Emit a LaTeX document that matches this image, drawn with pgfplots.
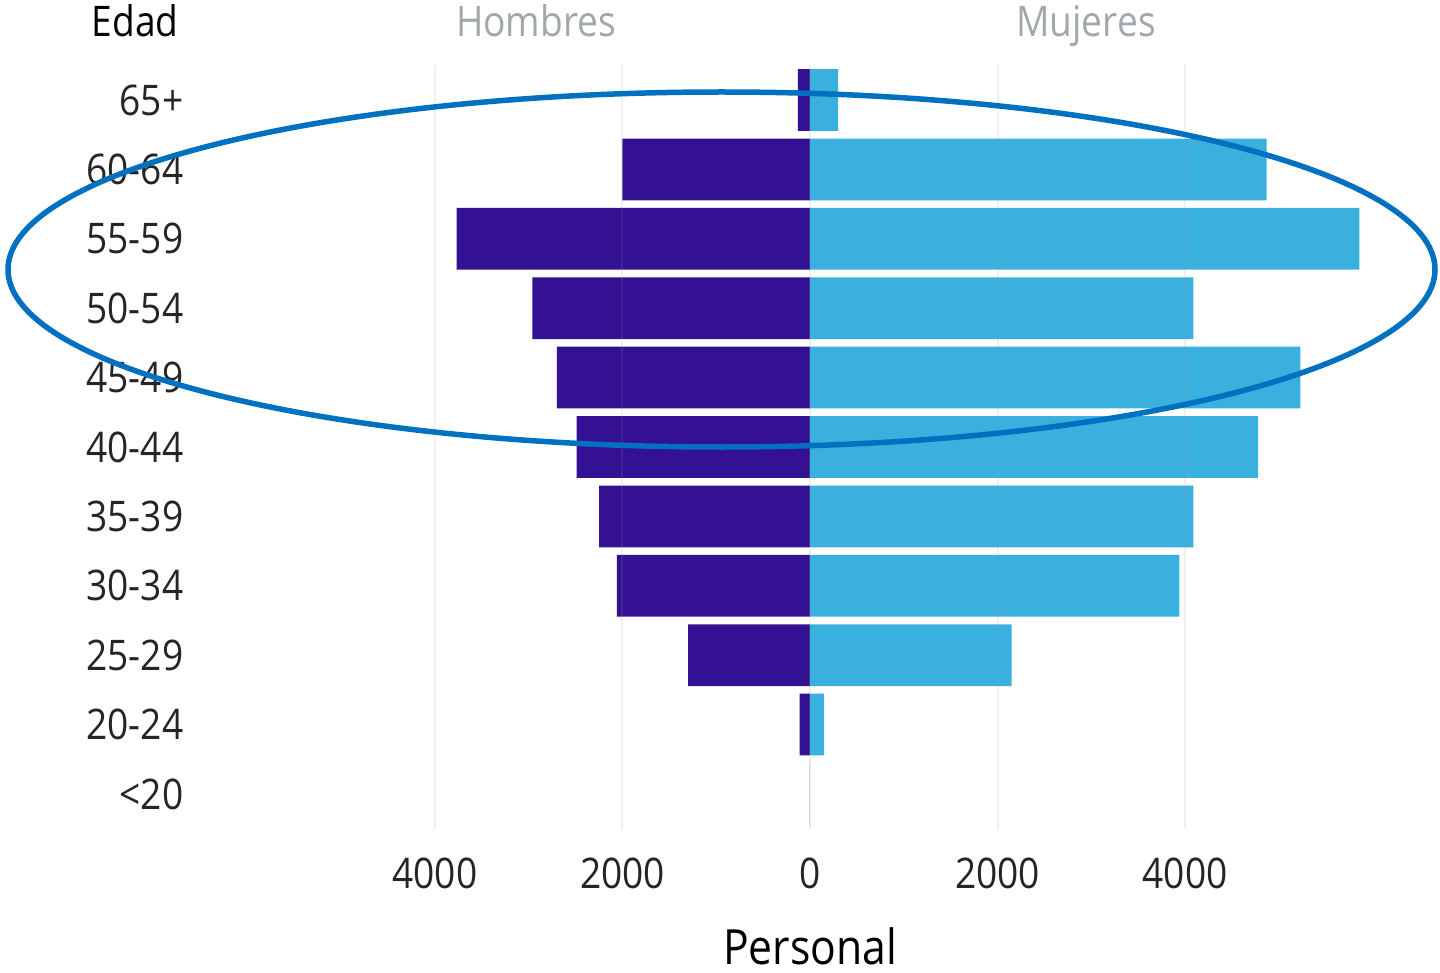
\documentclass[border=0pt]{standalone}
\usepackage{fontspec}
\setmainfont{Open Sans}[FakeStretch=0.88]
\usepackage{pgfplots}
\pgfplotsset{compat=1.18}
\definecolor{men}{HTML}{341192}
\definecolor{women}{HTML}{3AB0DE}
\definecolor{gridc}{HTML}{8C9AA8}
\definecolor{hdr}{HTML}{A0A8AC}
\definecolor{ring}{HTML}{0070C0}
\definecolor{txt}{HTML}{252525}
\begin{document}
\begin{tikzpicture}
\path[use as bounding box] (0,0) rectangle (144mm,-97.3mm);
\begin{axis}[
  at={(38.81mm,-82.87mm)}, anchor=south west,
  scale only axis, width=98.44mm, height=76.34mm,
  xmin=-4500, xmax=6000, ymin=-0.5, ymax=10.5,
  xbar, bar width=0.89, bar shift=0pt,
  axis line style={draw=none}, major tick length=0pt,
  xmajorgrids, grid style={color=gridc, line width=0.2mm, opacity=0.15},
  axis on top,
  xtick={-4000,-2000,0,2000,4000},
  xticklabels={4000,2000,0,2000,4000},
  ytick={0,1,2,3,4,5,6,7,8,9,10},
  yticklabels={<20,20-24,25-29,30-34,35-39,40-44,45-49,50-54,55-59,60-64,65+},
  /pgf/number format/assume math mode=true,
  ticklabel style={font=\fontsize{12}{14}\selectfont, text=txt, inner sep=0pt},
  xticklabel style={anchor=north, yshift=-2.9mm},
  yticklabel style={anchor=east, xshift=-20.41mm},
]
\addplot[fill=men, draw=none] coordinates {
(-130,10) (-2000,9) (-3770,8) (-2960,7) (-2700,6) (-2490,5) (-2250,4) (-2060,3) (-1300,2) (-110,1) (0,0)};
\addplot[fill=women, draw=none] coordinates {
(300,10) (4870,9) (5860,8) (4090,7) (5230,6) (4780,5) (4090,4) (3940,3) (2150,2) (150,1) (0,0)};
\end{axis}
\node[anchor=base, inner sep=0pt, font=\fontsize{12}{14}\selectfont, text=black] at (13.5mm,-3.7mm) {Edad};
\node[anchor=base, inner sep=0pt, font=\fontsize{12}{14}\selectfont, text=hdr] at (53.6mm,-3.7mm) {Hombres};
\node[anchor=base, inner sep=0pt, font=\fontsize{12}{14}\selectfont, text=hdr] at (108.6mm,-3.7mm) {Mujeres};
\node[anchor=base, inner sep=0pt, font=\fontsize{13.8}{16}\selectfont, text=black] at (81.0mm,-96.4mm) {Personal};
\draw[ring, line width=0.55mm] (72.15mm,-26.95mm) ellipse [x radius=71.35mm, y radius=17.75mm];
\end{tikzpicture}
\end{document}
